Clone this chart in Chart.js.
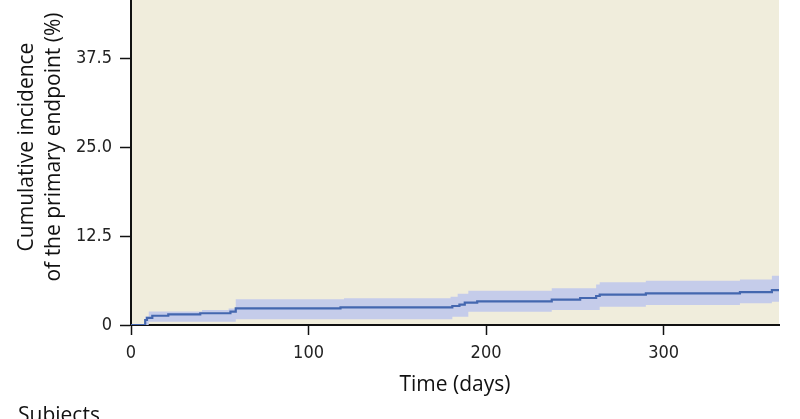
<!DOCTYPE html>
<html>
<head>
<meta charset="utf-8">
<script src="https://cdn.jsdelivr.net/npm/chart.js@4/dist/chart.umd.min.js"></script>
<style>
  html, body { margin: 0; padding: 0; background: #fff; width: 800px; height: 419px; overflow: hidden; position: relative; }
  #wrap { position: absolute; left: 0; top: -31px; width: 800px; height: 450px; }
  #subjects { position: absolute; left: 18px; top: 404px; font: 21px "Open Sans", sans-serif; line-height: 1; color: #111; white-space: nowrap; }
</style>
</head>
<body>
<div id="wrap"><canvas id="km" width="800" height="450"></canvas></div>
<div id="subjects">Subjects</div>
<script>
// Cumulative incidence estimate (step function), days -> %
const kmDays   = [0, 8,   9,   12,  21,  39,   56,   59,   118,  181,  185,  188,  195,  237,  253,  262,  264,  290,  343,  361, 365];
const kmValues = [0, 0.7, 1.0, 1.3, 1.5, 1.65, 1.87, 2.34, 2.48, 2.67, 2.85, 3.13, 3.32, 3.56, 3.79, 4.07, 4.26, 4.45, 4.63, 4.9, 4.9];

// 95% confidence band
const upperDays   = [0, 8,   10,  40,  55,  59,  120,  180,  184, 190,  237,  262, 264, 290,  343, 361, 365];
const upperValues = [0, 1.2, 1.9, 2.1, 2.3, 3.6, 3.75, 3.97, 4.4, 4.82, 5.15, 5.7, 6.0, 6.22, 6.4, 6.9, 6.9];
const lowerDays   = [0, 8, 10,   59,  181,  190,  237, 264,  290, 343,  361,  365];
const lowerValues = [0, 0, 0.45, 0.8, 1.17, 1.87, 2.1, 2.57, 2.8, 3.04, 3.27, 3.27];

const xTicks = [0, 100, 200, 300];
const yTicks = [0, 12.5, 25, 37.5, 50];
const yTickLabels = ['0', '12.5', '25.0', '37.5', '50.0'];

const toPoints = (xs, ys) => xs.map((x, i) => ({ x, y: ys[i] }));

// 'condensed' goes into the font shorthand as a stretch keyword
const tickFont = { family: '"Liberation Sans Narrow", "DejaVu Sans Condensed", "Liberation Sans", sans-serif', size: 18, weight: 'condensed' };
const titleFont = { family: '"Open Sans", sans-serif', size: 21 };

// beige plot background
const plotBackground = {
  id: 'plotBackground',
  beforeDraw(chart) {
    const { ctx, chartArea: a } = chart;
    ctx.save();
    ctx.fillStyle = '#F0EDDC';
    ctx.fillRect(a.left, a.top, a.right - a.left, a.bottom - a.top);
    ctx.restore();
  }
};

new Chart(document.getElementById('km'), {
  type: 'line',
  data: {
    datasets: [
      {
        label: 'Cumulative incidence',
        data: toPoints(kmDays, kmValues),
        stepped: true,
        borderColor: '#4467AF',
        borderWidth: 2.2,
        pointRadius: 0,
        fill: false,
        order: 0
      },
      {
        label: 'Upper CI',
        data: toPoints(upperDays, upperValues),
        stepped: true,
        borderWidth: 0,
        borderColor: 'rgba(0,0,0,0)',
        pointRadius: 0,
        backgroundColor: '#C5CCEA',
        fill: '+1',
        order: 1
      },
      {
        label: 'Lower CI',
        data: toPoints(lowerDays, lowerValues),
        stepped: true,
        borderWidth: 0,
        borderColor: 'rgba(0,0,0,0)',
        pointRadius: 0,
        fill: false,
        order: 2
      }
    ]
  },
  options: {
    responsive: false,
    animation: false,
    events: [],
    layout: { padding: { left: 0, right: 21, top: 0, bottom: 0 } },
    plugins: { legend: { display: false }, tooltip: { enabled: false } },
    scales: {
      x: {
        type: 'linear',
        min: 0,
        max: 365,
        afterBuildTicks: axis => { axis.ticks = xTicks.map(v => ({ value: v })); },
        afterFit: s => { s.height = 94; s.paddingLeft = 0; s.paddingRight = 0; },
        grid: { display: true, drawOnChartArea: false, drawTicks: true, tickLength: 10, tickColor: '#111', tickWidth: 1.5 },
        border: { display: true, color: '#111', width: 2 },
        ticks: { color: '#222', font: tickFont, padding: 8, maxRotation: 0 },
        title: { display: true, text: 'Time (days)', color: '#111', font: titleFont, padding: { top: 0, bottom: 21 } }
      },
      y: {
        min: 0,
        max: 50,
        afterBuildTicks: axis => { axis.ticks = yTicks.map(v => ({ value: v })); },
        afterFit: s => { s.width = 131; s.paddingTop = 0; s.paddingBottom = 0; },
        grid: { display: true, drawOnChartArea: false, drawTicks: true, tickLength: 11, tickColor: '#111', tickWidth: 1.5 },
        border: { display: true, color: '#111', width: 2 },
        ticks: {
          color: '#222',
          font: tickFont,
          padding: 8,
          callback: v => yTickLabels[yTicks.indexOf(v)]
        },
        title: {
          display: true,
          text: ['Cumulative incidence', 'of the primary endpoint (%)'],
          color: '#111',
          font: { family: '"Open Sans", sans-serif', size: 21, lineHeight: 1.3 },
          padding: { top: 13, bottom: 0 }
        }
      }
    }
  },
  plugins: [plotBackground]
});
</script>
</body>
</html>
